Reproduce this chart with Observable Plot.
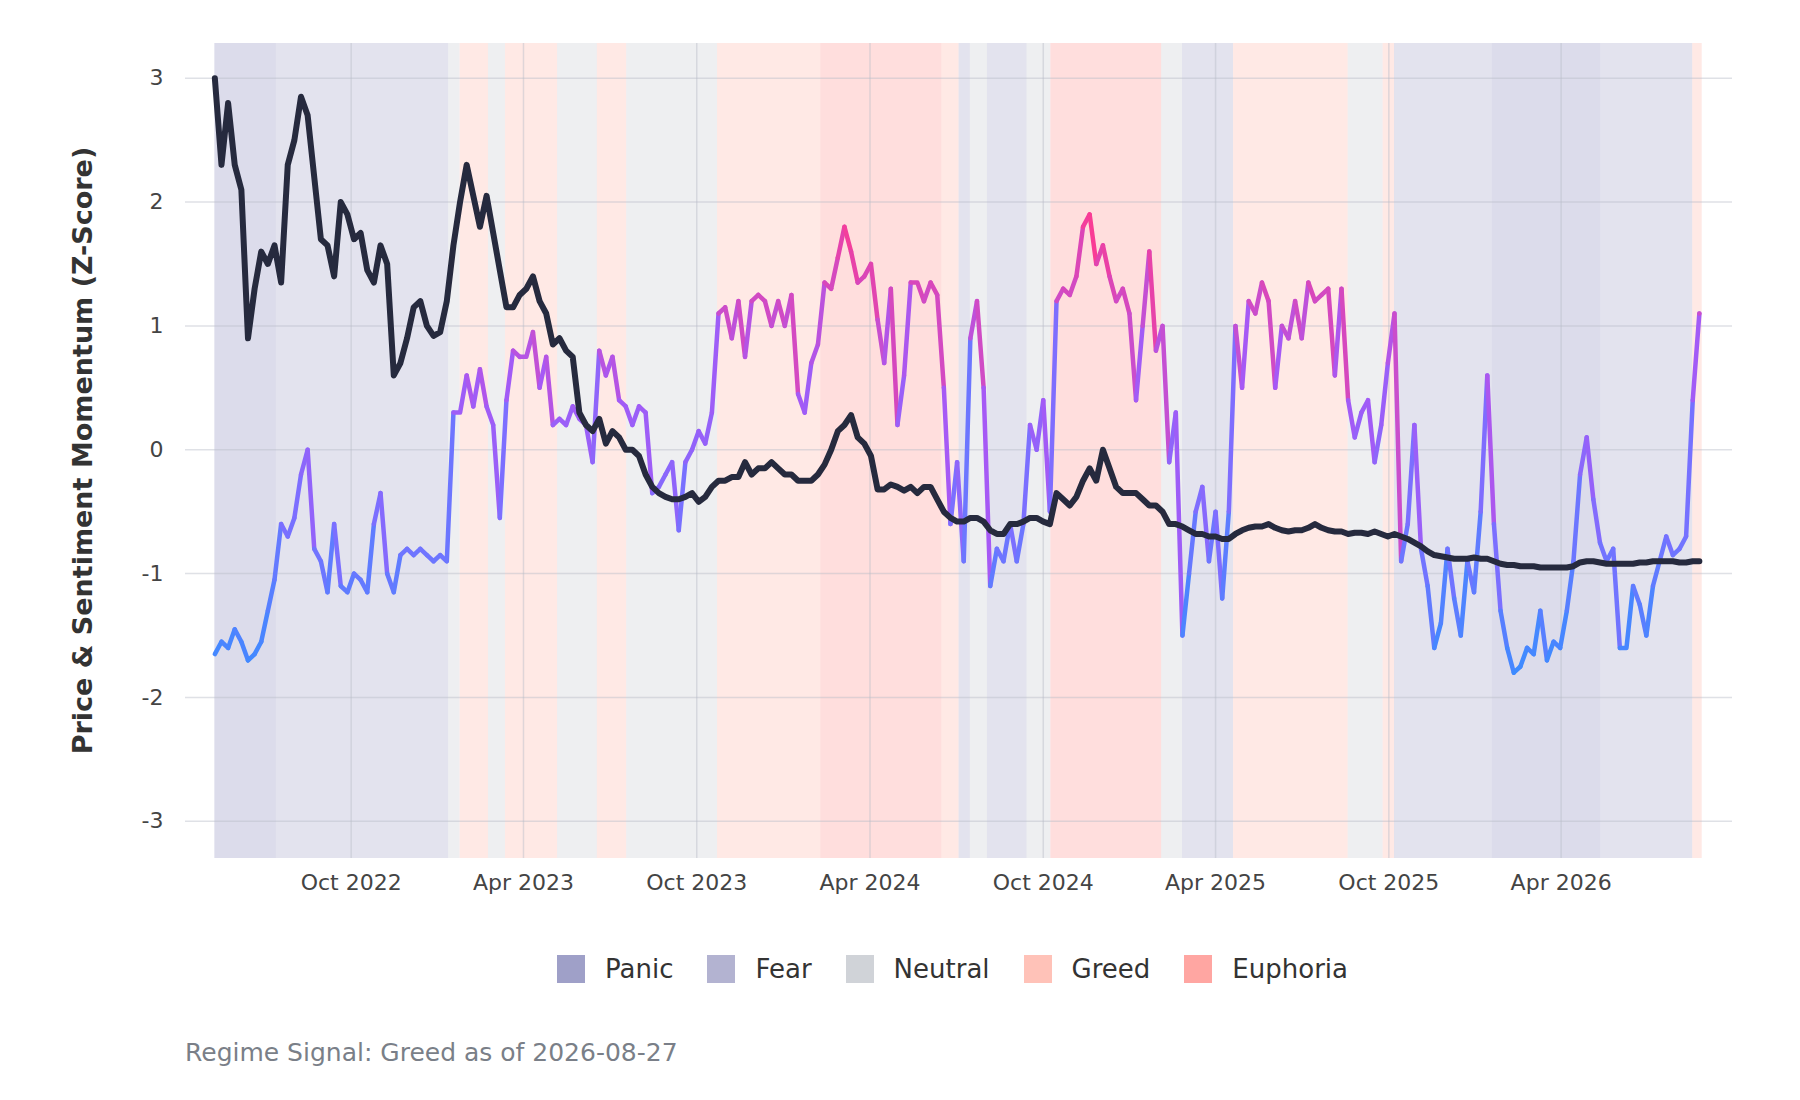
<!DOCTYPE html>
<html><head><meta charset="utf-8">
<script src="https://cdn.jsdelivr.net/npm/d3@7"></script>
<script src="https://cdn.jsdelivr.net/npm/@observablehq/plot@0.6"></script>
<style>
body{margin:0;background:#fff;font-family:"DejaVu Sans",sans-serif;}
#legend{margin-left:175px;width:1555px;display:flex;justify-content:center;gap:34px;font-size:26px;color:#333;margin-top:46px;}
#legend span.i{display:flex;align-items:center;gap:20px;}
#legend span.s{width:28px;height:28px;display:inline-block;}
#cap{margin-left:185px;margin-top:54px;font-size:25px;color:#7a7f88;}
</style></head><body>
<div id="chart"></div>
<div id="legend"></div>
<div id="cap">Regime Signal: Greed as of 2026-08-27</div>
<script>
const startDate = "2022-05-10";
const sentiment = [-1.65,-1.55,-1.6,-1.45,-1.55,-1.7,-1.65,-1.55,-1.3,-1.05,-0.6,-0.7,-0.55,-0.2,0.0,-0.8,-0.9,-1.15,-0.6,-1.1,-1.15,-1.0,-1.05,-1.15,-0.6,-0.35,-1.0,-1.15,-0.85,-0.8,-0.85,-0.8,-0.85,-0.9,-0.85,-0.9,
0.3,0.3,0.6,0.35,0.65,0.35,0.2,-0.55,0.4,0.8,0.75,0.75,0.95,0.5,0.75,0.2,0.25,0.2,0.35,0.25,0.2,-0.1,0.8,0.6,0.75,0.4,0.35,0.2,0.35,0.3,-0.35,-0.3,-0.2,-0.1,-0.65,-0.1,0.0,0.15,0.05,0.3,
1.1,1.15,0.9,1.2,0.75,1.2,1.25,1.2,1.0,1.2,1.0,1.25,0.45,0.3,0.7,0.85,1.35,1.3,1.55,1.8,1.6,1.35,1.4,1.5,1.05,0.7,1.3,0.2,0.6,1.35,1.35,1.2,1.35,1.25,0.5,-0.6,-0.1,-0.9,0.9,1.2,0.5,-1.1,-0.8,-0.9,-0.6,-0.9,-0.6,0.2,0.0,0.4,-0.5,
1.2,1.3,1.25,1.4,1.8,1.9,1.5,1.65,1.4,1.2,1.3,1.1,0.4,1.0,1.6,0.8,1.0,-0.1,0.3,-1.5,-1.0,-0.5,-0.3,-0.9,-0.5,-1.2,-0.5,1.0,0.5,1.2,1.1,1.35,1.2,0.5,1.0,0.9,1.2,0.9,1.35,1.2,1.25,1.3,0.6,1.3,0.4,0.1,0.3,0.4,-0.1,0.2,0.7,1.1,
-0.9,-0.6,0.2,-0.8,-1.1,-1.6,-1.4,-0.8,-1.2,-1.5,-0.9,-1.15,-0.5,0.6,-0.6,-1.3,-1.6,-1.8,-1.75,-1.6,-1.65,-1.3,-1.7,-1.55,-1.6,-1.3,-0.9,-0.2,0.1,-0.4,-0.75,-0.9,-0.8,-1.6,-1.6,-1.1,-1.25,-1.5,-1.1,-0.9,-0.7,-0.85,-0.8,-0.7,0.4,1.1];
const price = [3.0,2.3,2.8,2.3,2.1,0.9,1.3,1.6,1.5,1.65,1.35,2.3,2.5,2.85,2.7,2.2,1.7,1.65,1.4,2.0,1.9,1.7,1.75,1.45,1.35,1.65,1.5,0.6,0.7,0.9,1.15,1.2,1.0,0.92,0.95,1.2,
1.65,2.0,2.3,2.05,1.8,2.05,1.75,1.45,1.15,1.15,1.25,1.3,1.4,1.2,1.1,0.85,0.9,0.8,0.75,0.3,0.2,0.15,0.25,0.05,0.15,0.1,0.0,0.0,-0.05,-0.2,-0.3,-0.35,-0.38,-0.4,-0.4,-0.38,-0.35,-0.42,-0.38,-0.3,
-0.25,-0.25,-0.22,-0.22,-0.1,-0.2,-0.15,-0.15,-0.1,-0.15,-0.2,-0.2,-0.25,-0.25,-0.25,-0.2,-0.12,0.0,0.15,0.2,0.28,0.1,0.05,-0.05,-0.32,-0.32,-0.28,-0.3,-0.33,-0.3,-0.35,-0.3,-0.3,-0.4,-0.5,-0.55,-0.58,-0.58,-0.55,-0.55,-0.58,-0.65,-0.68,-0.68,-0.6,-0.6,-0.58,-0.55,-0.55,-0.58,-0.6,
-0.35,-0.4,-0.45,-0.38,-0.25,-0.15,-0.25,0.0,-0.15,-0.3,-0.35,-0.35,-0.35,-0.4,-0.45,-0.45,-0.5,-0.6,-0.6,-0.62,-0.65,-0.68,-0.68,-0.7,-0.7,-0.72,-0.72,-0.68,-0.65,-0.63,-0.62,-0.62,-0.6,-0.63,-0.65,-0.66,-0.65,-0.65,-0.63,-0.6,-0.63,-0.65,-0.66,-0.66,-0.68,-0.67,-0.67,-0.68,-0.66,-0.68,-0.7,-0.68,
-0.7,-0.72,-0.75,-0.78,-0.82,-0.85,-0.86,-0.87,-0.88,-0.88,-0.88,-0.87,-0.88,-0.88,-0.9,-0.92,-0.93,-0.93,-0.94,-0.94,-0.94,-0.95,-0.95,-0.95,-0.95,-0.95,-0.94,-0.91,-0.9,-0.9,-0.91,-0.92,-0.92,-0.92,-0.92,-0.92,-0.91,-0.91,-0.9,-0.9,-0.9,-0.9,-0.91,-0.91,-0.9,-0.9];
const regimeStarts = ["2022-05-10","2022-07-14","2023-01-12","2023-01-24","2023-02-23","2023-03-13","2023-05-07","2023-06-18","2023-07-19","2023-10-23","2024-02-09","2024-06-16","2024-07-04","2024-07-16","2024-08-03","2024-09-14","2024-10-09","2025-02-03","2025-02-25","2025-04-20","2025-08-19","2025-09-25","2025-10-07","2026-01-18","2026-05-13","2026-08-18"];
const regimeLabels = ["Panic","Fear","Neutral","Greed","Neutral","Greed","Neutral","Greed","Neutral","Greed","Euphoria","Greed","Fear","Neutral","Fear","Neutral","Euphoria","Neutral","Fear","Greed","Neutral","Greed","Fear","Panic","Fear","Greed"];
const regimeEnd = "2026-08-28";
const regimeNames = ["Panic","Fear","Neutral","Greed","Euphoria"];
const regimeColors = ["#9fa0c8","#b3b3d1","#d0d3d8","#ffc2b8","#ffa6a2"];
const xTicks = ["2022-10-01","2023-04-01","2023-10-01","2024-04-01","2024-10-01","2025-04-01","2025-10-01","2026-04-01"];
const yTicks = [-3,-2,-1,0,1,2,3];

const parse = d3.utcParse("%Y-%m-%d");
const t0 = parse(startDate);
const series = sentiment.map((v,i)=>({date:d3.utcDay.offset(t0,i*7), s:v, p:price[i]}));
const regimes = regimeStarts.map((s,i)=>({x1:parse(s), x2:parse(regimeStarts[i+1]||regimeEnd), r:regimeLabels[i]}));
const xDom = [parse("2022-04-09"), parse("2026-09-29")];

const bgMarks = regimeNames.map((n,k)=>Plot.rectY(regimes.filter(d=>d.r===n),{x1:"x1",x2:"x2",y1:-3.3,y2:3.28,fill:regimeColors[k],fillOpacity:0.37}));

const chart = Plot.plot({
  width:1800, height:908, marginLeft:185, marginRight:68, marginTop:43, marginBottom:50,
  style:{fontFamily:"DejaVu Sans", fontSize:"22px", color:"#444", background:"#fff"},
  x:{type:"utc", domain:xDom, ticks:xTicks.map(parse), tickFormat:d3.utcFormat("%b %Y"), tickSize:0, tickPadding:16, label:null},
  y:{domain:[-3.3,3.28], ticks:yTicks, tickFormat:d=>String(d), tickSize:0, tickPadding:22, label:"Price & Sentiment Momentum (Z-Score)", labelAnchor:"center", labelArrow:"none"},
  color:{type:"linear", domain:[-1.8,-0.6,0.5,2.0], range:["#3d8bff","#7b6fff","#a659f5","#ff3a8e"]},
  marks:[
    ...bgMarks,
    Plot.gridY(yTicks,{stroke:"#b8bcc8",strokeOpacity:0.45,strokeWidth:1.5,x1:xDom[0],x2:xDom[1]}),
    Plot.gridX(xTicks.map(parse),{stroke:"#b8bcc8",strokeOpacity:0.45,strokeWidth:1.5,y1:-3.3,y2:3.28}),
    Plot.line(series,{x:"date",y:"s",z:null,stroke:"s",strokeWidth:4.5}),
    Plot.line(series,{x:"date",y:"p",stroke:"#262a3e",strokeWidth:6}),
  ]
});
document.getElementById("chart").appendChild(chart);
const yl = chart.querySelector('[aria-label="y-axis label"] text');
if(yl){yl.setAttribute("font-weight","bold");yl.setAttribute("font-size","27");yl.setAttribute("fill","#333");}
d3.select(chart).selectAll('[aria-label="y-axis label"]').attr("transform","translate(-112,0)");
const lg = document.getElementById("legend");
regimeNames.forEach((n,k)=>{lg.insertAdjacentHTML("beforeend",`<span class="i"><span class="s" style="background:${regimeColors[k]}"></span>${n}</span>`);});
</script></body></html>
